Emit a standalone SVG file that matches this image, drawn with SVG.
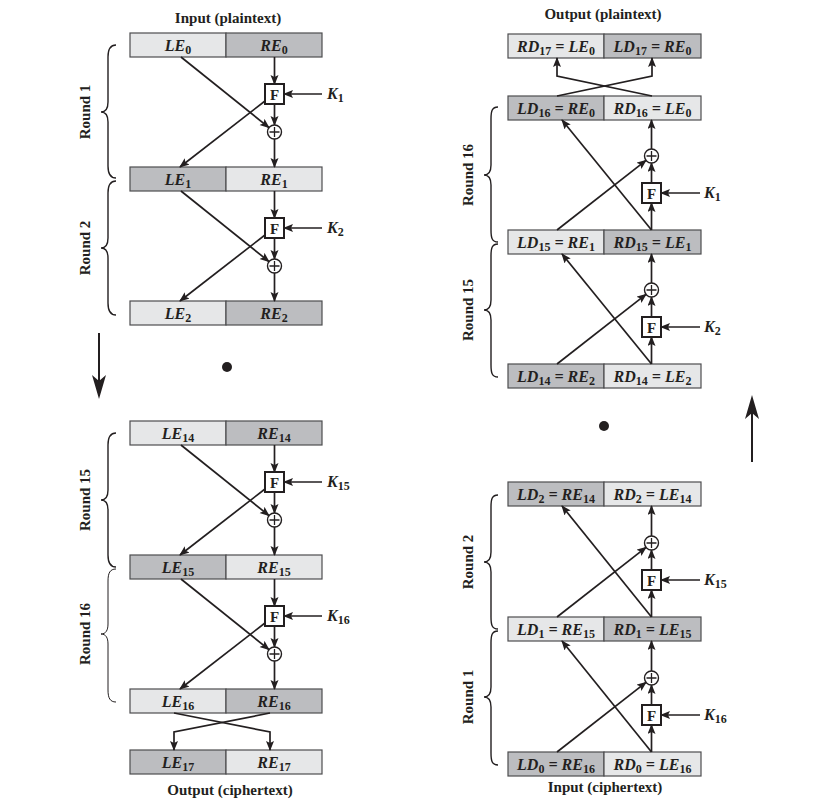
<svg xmlns="http://www.w3.org/2000/svg" width="826" height="810" viewBox="0 0 826 810">
<style>
.bg{fill:#ffffff}
.dk{fill:#bcbdc0;stroke:#4d4d4f;stroke-width:1.2}
.lt{fill:#e6e7e8;stroke:#4d4d4f;stroke-width:1.2}
.ln{fill:none;stroke:#231f20;stroke-width:1.7}
.ar{fill:none;stroke:#231f20;stroke-width:1.7;marker-end:url(#ah)}
.br{fill:none;stroke:#231f20;stroke-width:1.4}
.fb{fill:#ffffff;stroke:#231f20;stroke-width:2}
.xo{fill:#ffffff;stroke:#231f20;stroke-width:1.4}
.bt{font-family:"Liberation Serif",serif;font-weight:bold;font-style:italic;font-size:16px;fill:#231f20;text-anchor:middle}
.s{font-size:12px;font-style:normal}
.kt{font-family:"Liberation Serif",serif;font-weight:bold;font-style:italic;font-size:16px;fill:#231f20}
.ft{font-family:"Liberation Serif",serif;font-weight:bold;font-size:15px;fill:#231f20;text-anchor:middle}
.tt{font-family:"Liberation Serif",serif;font-weight:bold;font-size:15px;fill:#231f20;text-anchor:middle}
.rl{font-family:"Liberation Serif",serif;font-weight:bold;font-size:15px;fill:#231f20;text-anchor:middle}
</style>
<defs>
<marker id="ah" markerUnits="userSpaceOnUse" markerWidth="11" markerHeight="9" refX="9" refY="4" orient="auto">
<path d="M0,0 L10,4 L0,8 L2,4 z" fill="#231f20"/>
</marker>
<g id="fbox"><rect class="fb" x="-9.5" y="-10" width="19" height="20"/><text class="ft" x="0" y="5.5">F</text></g>
<g id="xor"><circle class="xo" r="7"/><path class="ln" d="M-5,0 H5 M0,-5 V5" style="stroke-width:1.3"/></g>
</defs>
<rect class="bg" width="826" height="810"/>

<!-- Titles -->
<text class="tt" x="228" y="23">Input (plaintext)</text>
<text class="tt" x="230" y="795">Output (ciphertext)</text>
<text class="tt" x="603" y="19">Output (plaintext)</text>
<text class="tt" x="605" y="792">Input (ciphertext)</text>

<!-- Left column boxes -->
<g id="L0"><rect class="lt" x="130" y="33" width="96" height="24"/><rect class="dk" x="226" y="33" width="96" height="24"/>
<text class="bt" x="178" y="51">LE<tspan class="s" dy="3">0</tspan></text><text class="bt" x="274" y="51">RE<tspan class="s" dy="3">0</tspan></text></g>
<g id="L1"><rect class="dk" x="130" y="167" width="96" height="24"/><rect class="lt" x="226" y="167" width="96" height="24"/>
<text class="bt" x="178" y="185">LE<tspan class="s" dy="3">1</tspan></text><text class="bt" x="274" y="185">RE<tspan class="s" dy="3">1</tspan></text></g>
<g id="L2"><rect class="lt" x="130" y="301" width="96" height="24"/><rect class="dk" x="226" y="301" width="96" height="24"/>
<text class="bt" x="178" y="319">LE<tspan class="s" dy="3">2</tspan></text><text class="bt" x="274" y="319">RE<tspan class="s" dy="3">2</tspan></text></g>
<g id="L14"><rect class="lt" x="130" y="421" width="96" height="24"/><rect class="dk" x="226" y="421" width="96" height="24"/>
<text class="bt" x="178" y="439">LE<tspan class="s" dy="3">14</tspan></text><text class="bt" x="274" y="439">RE<tspan class="s" dy="3">14</tspan></text></g>
<g id="L15"><rect class="dk" x="130" y="555" width="96" height="24"/><rect class="lt" x="226" y="555" width="96" height="24"/>
<text class="bt" x="178" y="573">LE<tspan class="s" dy="3">15</tspan></text><text class="bt" x="274" y="573">RE<tspan class="s" dy="3">15</tspan></text></g>
<g id="L16"><rect class="lt" x="130" y="689" width="96" height="24"/><rect class="dk" x="226" y="689" width="96" height="24"/>
<text class="bt" x="178" y="707">LE<tspan class="s" dy="3">16</tspan></text><text class="bt" x="274" y="707">RE<tspan class="s" dy="3">16</tspan></text></g>
<g id="L17"><rect class="dk" x="130" y="750" width="96" height="24"/><rect class="lt" x="226" y="750" width="96" height="24"/>
<text class="bt" x="178" y="768">LE<tspan class="s" dy="3">17</tspan></text><text class="bt" x="274" y="768">RE<tspan class="s" dy="3">17</tspan></text></g>

<!-- Right column boxes -->
<g id="R17"><rect class="lt" x="508" y="34" width="96" height="24"/><rect class="dk" x="604" y="34" width="97" height="24"/>
<text class="bt" x="556" y="52">RD<tspan class="s" dy="3">17</tspan><tspan dy="-3"> = LE</tspan><tspan class="s" dy="3">0</tspan></text>
<text class="bt" x="652.5" y="52">LD<tspan class="s" dy="3">17</tspan><tspan dy="-3"> = RE</tspan><tspan class="s" dy="3">0</tspan></text></g>
<g id="R16"><rect class="dk" x="508" y="96" width="96" height="24"/><rect class="lt" x="604" y="96" width="97" height="24"/>
<text class="bt" x="556" y="114">LD<tspan class="s" dy="3">16</tspan><tspan dy="-3"> = RE</tspan><tspan class="s" dy="3">0</tspan></text>
<text class="bt" x="652.5" y="114">RD<tspan class="s" dy="3">16</tspan><tspan dy="-3"> = LE</tspan><tspan class="s" dy="3">0</tspan></text></g>
<g id="R15"><rect class="lt" x="508" y="230" width="96" height="24"/><rect class="dk" x="604" y="230" width="97" height="24"/>
<text class="bt" x="556" y="248">LD<tspan class="s" dy="3">15</tspan><tspan dy="-3"> = RE</tspan><tspan class="s" dy="3">1</tspan></text>
<text class="bt" x="652.5" y="248">RD<tspan class="s" dy="3">15</tspan><tspan dy="-3"> = LE</tspan><tspan class="s" dy="3">1</tspan></text></g>
<g id="R14"><rect class="dk" x="508" y="364" width="96" height="24"/><rect class="lt" x="604" y="364" width="97" height="24"/>
<text class="bt" x="556" y="382">LD<tspan class="s" dy="3">14</tspan><tspan dy="-3"> = RE</tspan><tspan class="s" dy="3">2</tspan></text>
<text class="bt" x="652.5" y="382">RD<tspan class="s" dy="3">14</tspan><tspan dy="-3"> = LE</tspan><tspan class="s" dy="3">2</tspan></text></g>
<g id="R2"><rect class="dk" x="508" y="482" width="96" height="24"/><rect class="lt" x="604" y="482" width="97" height="24"/>
<text class="bt" x="556" y="500">LD<tspan class="s" dy="3">2</tspan><tspan dy="-3"> = RE</tspan><tspan class="s" dy="3">14</tspan></text>
<text class="bt" x="652.5" y="500">RD<tspan class="s" dy="3">2</tspan><tspan dy="-3"> = LE</tspan><tspan class="s" dy="3">14</tspan></text></g>
<g id="R1"><rect class="lt" x="508" y="617" width="96" height="24"/><rect class="dk" x="604" y="617" width="97" height="24"/>
<text class="bt" x="556" y="635">LD<tspan class="s" dy="3">1</tspan><tspan dy="-3"> = RE</tspan><tspan class="s" dy="3">15</tspan></text>
<text class="bt" x="652.5" y="635">RD<tspan class="s" dy="3">1</tspan><tspan dy="-3"> = LE</tspan><tspan class="s" dy="3">15</tspan></text></g>
<g id="R0"><rect class="dk" x="508" y="752" width="96" height="24"/><rect class="lt" x="604" y="752" width="97" height="24"/>
<text class="bt" x="556" y="770">LD<tspan class="s" dy="3">0</tspan><tspan dy="-3"> = RE</tspan><tspan class="s" dy="3">16</tspan></text>
<text class="bt" x="652.5" y="770">RD<tspan class="s" dy="3">0</tspan><tspan dy="-3"> = LE</tspan><tspan class="s" dy="3">16</tspan></text></g>

<!-- Connectors -->
<g id="connectors">
<line class="ar" x1="274.5" y1="57" x2="274.5" y2="84"/>
<line class="ar" x1="274.5" y1="104" x2="274.5" y2="125"/>
<line class="ar" x1="274.5" y1="139" x2="274.5" y2="167"/>
<line class="ar" x1="181" y1="57" x2="269" y2="127.6"/>
<line class="ar" x1="265" y1="101" x2="180" y2="167"/>
<line class="ar" x1="322" y1="94" x2="284" y2="94"/>
<line class="ar" x1="274.5" y1="191" x2="274.5" y2="218"/>
<line class="ar" x1="274.5" y1="238" x2="274.5" y2="259"/>
<line class="ar" x1="274.5" y1="273" x2="274.5" y2="301"/>
<line class="ar" x1="181" y1="191" x2="269" y2="261.6"/>
<line class="ar" x1="265" y1="235" x2="180" y2="301"/>
<line class="ar" x1="322" y1="228" x2="284" y2="228"/>
<line class="ar" x1="274.5" y1="445" x2="274.5" y2="472"/>
<line class="ar" x1="274.5" y1="492" x2="274.5" y2="513"/>
<line class="ar" x1="274.5" y1="527" x2="274.5" y2="555"/>
<line class="ar" x1="181" y1="445" x2="269" y2="515.6"/>
<line class="ar" x1="265" y1="489" x2="180" y2="555"/>
<line class="ar" x1="322" y1="482" x2="284" y2="482"/>
<line class="ar" x1="274.5" y1="579" x2="274.5" y2="606"/>
<line class="ar" x1="274.5" y1="626" x2="274.5" y2="647"/>
<line class="ar" x1="274.5" y1="661" x2="274.5" y2="689"/>
<line class="ar" x1="181" y1="579" x2="269" y2="649.6"/>
<line class="ar" x1="265" y1="623" x2="180" y2="689"/>
<line class="ar" x1="322" y1="616" x2="284" y2="616"/>
<polyline class="ar" points="174,713 270,732 270,750"/>
<polyline class="ar" points="270,713 174,732 174,750"/>

<line class="ar" x1="651.5" y1="230" x2="651.5" y2="203"/>
<line class="ar" x1="651.5" y1="183" x2="651.5" y2="163"/>
<line class="ar" x1="651.5" y1="149" x2="651.5" y2="120"/>
<line class="ar" x1="557" y1="230" x2="646" y2="160.3"/>
<line class="ar" x1="651.5" y1="230" x2="562" y2="120"/>
<line class="ar" x1="700" y1="193" x2="661" y2="193"/>
<line class="ar" x1="651.5" y1="364" x2="651.5" y2="337"/>
<line class="ar" x1="651.5" y1="317" x2="651.5" y2="297"/>
<line class="ar" x1="651.5" y1="283" x2="651.5" y2="254"/>
<line class="ar" x1="557" y1="364" x2="646" y2="294.3"/>
<line class="ar" x1="651.5" y1="364" x2="562" y2="254"/>
<line class="ar" x1="700" y1="327" x2="661" y2="327"/>
<line class="ar" x1="651.5" y1="617" x2="651.5" y2="590"/>
<line class="ar" x1="651.5" y1="570" x2="651.5" y2="550"/>
<line class="ar" x1="651.5" y1="536" x2="651.5" y2="506"/>
<line class="ar" x1="557" y1="617" x2="646" y2="547.3"/>
<line class="ar" x1="651.5" y1="617" x2="562" y2="506"/>
<line class="ar" x1="700" y1="580" x2="661" y2="580"/>
<line class="ar" x1="651.5" y1="752" x2="651.5" y2="725"/>
<line class="ar" x1="651.5" y1="705" x2="651.5" y2="685"/>
<line class="ar" x1="651.5" y1="671" x2="651.5" y2="641"/>
<line class="ar" x1="557" y1="752" x2="646" y2="682.3"/>
<line class="ar" x1="651.5" y1="752" x2="562" y2="641"/>
<line class="ar" x1="700" y1="715" x2="661" y2="715"/>
<polyline class="ar" points="557,96 652,76 652,58"/>
<polyline class="ar" points="652,96 557,76 557,58"/>

<line class="ln" x1="99" y1="333" x2="99" y2="385" style="stroke-width:2"/>
<path d="M99,399 L92,375 L99,381 L106,375 z" fill="#231f20"/>
<line class="ln" x1="752" y1="462" x2="752" y2="410" style="stroke-width:2"/>
<path d="M752,395 L745,419 L752,413 L759,419 z" fill="#231f20"/>
</g>

<!-- F boxes and XORs -->
<g id="F1"><use href="#fbox" x="274.5" y="94"/></g>
<g id="X1"><use href="#xor" x="274.5" y="132"/></g>
<g id="F2"><use href="#fbox" x="274.5" y="228"/></g>
<g id="X2"><use href="#xor" x="274.5" y="266"/></g>
<g id="F15"><use href="#fbox" x="274.5" y="482"/></g>
<g id="X15"><use href="#xor" x="274.5" y="520"/></g>
<g id="F16"><use href="#fbox" x="274.5" y="616"/></g>
<g id="X16"><use href="#xor" x="274.5" y="654"/></g>
<g id="DF16"><use href="#fbox" x="651.5" y="193"/></g>
<g id="DX16"><use href="#xor" x="651.5" y="156"/></g>
<g id="DF15"><use href="#fbox" x="651.5" y="327"/></g>
<g id="DX15"><use href="#xor" x="651.5" y="290"/></g>
<g id="DF2"><use href="#fbox" x="651.5" y="580"/></g>
<g id="DX2"><use href="#xor" x="651.5" y="543"/></g>
<g id="DF1"><use href="#fbox" x="651.5" y="715"/></g>
<g id="DX1"><use href="#xor" x="651.5" y="678"/></g>

<!-- Key labels -->
<text class="kt" x="327" y="99">K<tspan class="s" dy="3">1</tspan></text>
<text class="kt" x="327" y="233">K<tspan class="s" dy="3">2</tspan></text>
<text class="kt" x="327" y="487">K<tspan class="s" dy="3">15</tspan></text>
<text class="kt" x="327" y="621">K<tspan class="s" dy="3">16</tspan></text>
<text class="kt" x="704" y="198">K<tspan class="s" dy="3">1</tspan></text>
<text class="kt" x="704" y="332">K<tspan class="s" dy="3">2</tspan></text>
<text class="kt" x="704" y="585">K<tspan class="s" dy="3">15</tspan></text>
<text class="kt" x="704" y="720">K<tspan class="s" dy="3">16</tspan></text>

<!-- Dots -->
<circle cx="227" cy="367" r="5" fill="#231f20"/>
<circle cx="604" cy="426" r="5" fill="#231f20"/>

<!-- Braces and round labels -->
<g id="braces">
<path class="br" d="M116,45 C110,45 108,49 108,57 L108,102 C108,108 106,112 101,112 C106,112 108,116 108,122 L108,166 C108,174 110,178 116,178"/>
<path class="br" d="M116,181 C110,181 108,185 108,193 L108,238 C108,244 106,248 101,248 C106,248 108,252 108,258 L108,303 C108,311 110,315 116,315"/>
<path class="br" d="M116,433 C110,433 108,437 108,445 L108,490 C108,496 106,500 101,500 C106,500 108,504 108,510 L108,555 C108,563 110,567 116,567"/>
<path class="br" d="M116,569 C110,569 108,573 108,581 L108,624 C108,630 106,634 101,634 C106,634 108,638 108,644 L108,690 C108,698 110,702 116,702" style="stroke-width:1"/>
<path class="br" d="M498,107 C492,107 491,111 491,119 L491,165 C491,171 489,175 484,175 C489,175 491,179 491,185 L491,230 C491,238 492,242 498,242"/>
<path class="br" d="M498,244 C492,244 491,248 491,256 L491,300 C491,306 489,310 484,310 C489,310 491,314 491,320 L491,365 C491,373 492,377 498,377"/>
<path class="br" d="M498,495 C492,495 491,499 491,507 L491,552 C491,558 489,562 484,562 C489,562 491,566 491,572 L491,617 C491,625 492,629 498,629"/>
<path class="br" d="M498,631 C492,631 491,635 491,643 L491,687 C491,693 489,697 484,697 C489,697 491,701 491,707 L491,753 C491,761 492,765 498,765"/>
</g>
<text class="rl" transform="translate(90,112) rotate(-90)">Round 1</text>
<text class="rl" transform="translate(90,248) rotate(-90)">Round 2</text>
<text class="rl" transform="translate(90,500) rotate(-90)">Round 15</text>
<text class="rl" transform="translate(90,634) rotate(-90)">Round 16</text>
<text class="rl" transform="translate(473,175) rotate(-90)">Round 16</text>
<text class="rl" transform="translate(473,310) rotate(-90)">Round 15</text>
<text class="rl" transform="translate(473,562) rotate(-90)">Round 2</text>
<text class="rl" transform="translate(473,697) rotate(-90)">Round 1</text>
</svg>
